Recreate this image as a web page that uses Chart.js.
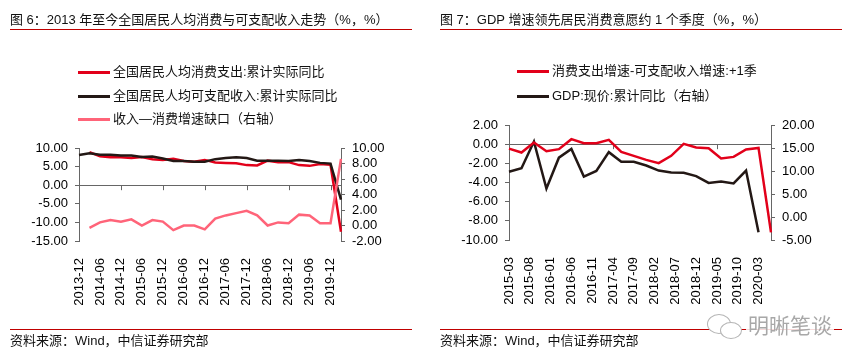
<!DOCTYPE html>
<html>
<head>
<meta charset="utf-8">
<script src="https://cdn.jsdelivr.net/npm/chart.js@4.4.1/dist/chart.umd.min.js"></script>
<style>
  body { margin: 0; background: #fff; }
  #wrap { position: relative; width: 857px; height: 364px; overflow: hidden;
          font-family: 'Liberation Sans', 'Noto Sans CJK SC', sans-serif; color: #111; }
  canvas { position: absolute; top: 0; }
  .title { position: absolute; top: 11px; font-size: 13px; line-height: 18px; white-space: nowrap; }
  .rule { position: absolute; height: 1px; background: #c00000; }
  .src { position: absolute; top: 332px; font-size: 13px; line-height: 18px; white-space: nowrap; }
  .sw { position: absolute; width: 32px; height: 3px; }
  .lt { position: absolute; font-size: 13px; line-height: 18px; white-space: nowrap; }
  .wm { position: absolute; left: 746px; top: 313px; font-size: 21px; line-height: 26px; color: #a8a8a8;
        background: rgba(255,255,255,0.85); padding: 0 2px; }
  .bub { position: absolute; border: 1.5px solid #b5b5b5; border-radius: 50%; background: #fff; }
</style>
</head>
<body>
<div id="wrap">
  <canvas id="c1" width="428" height="364" style="left:0"></canvas>
  <canvas id="c2" width="429" height="364" style="left:428px"></canvas>

  <div class="title" style="left:10px">图 6：2013 年至今全国居民人均消费与可支配收入走势（%，%）</div>
  <div class="rule" style="left:10px; top:29px; width:402px"></div>
  <div class="title" style="left:440px">图 7：GDP 增速领先居民消费意愿约 1 个季度（%，%）</div>
  <div class="rule" style="left:440px; top:29px; width:402px"></div>

  <div class="rule" style="left:10px; top:329px; width:402px"></div>
  <div class="src" style="left:10px">资料来源：Wind，中信证券研究部</div>
  <div class="rule" style="left:440px; top:329px; width:402px"></div>
  <div class="src" style="left:440px">资料来源：Wind，中信证券研究部</div>

  <div class="bub" style="left:707px; top:314px; width:22px; height:18px"></div>
  <div class="bub" style="left:720px; top:322px; width:20px; height:15px"></div>
  <div class="wm">明晰笔谈</div>
</div>

<script>
// 图6 quarterly data (2013-12 .. 2020-03)
const quarters1 = ['2013-12', '2014-03', '2014-06', '2014-09', '2014-12', '2015-03', '2015-06', '2015-09',
  '2015-12', '2016-03', '2016-06', '2016-09', '2016-12', '2017-03', '2017-06', '2017-09', '2017-12',
  '2018-03', '2018-06', '2018-09', '2018-12', '2019-03', '2019-06', '2019-09', '2019-12', '2020-03'];
const consumeReal = [null, 8.9, 7.8, 7.5, 7.5, 7.3, 7.6, 7.0, 6.8, 7.1, 6.5, 6.3, 6.8, 6.1, 6.0, 5.9,
  5.4, 5.3, 6.6, 6.2, 6.2, 5.4, 5.2, 5.7, 5.5, -12.5];
const incomeReal = [8.1, 8.6, 8.2, 8.2, 8.0, 8.0, 7.6, 7.7, 7.2, 6.5, 6.5, 6.3, 6.3, 7.0, 7.3, 7.5,
  7.3, 6.6, 6.6, 6.6, 6.5, 6.8, 6.5, 6.0, 5.8, -3.9];
const gapRight = [null, -0.3, 0.4, 0.7, 0.5, 0.8, 0.0, 0.7, 0.5, -0.6, 0.0, 0.0, -0.5, 0.9, 1.3, 1.6,
  1.9, 1.3, 0.0, 0.4, 0.3, 1.4, 1.3, 0.3, 0.3, 8.6];

// 图7 quarterly points on a monthly axis
const quarters2 = ['2015-03', '2015-06', '2015-09', '2015-12', '2016-03', '2016-06', '2016-09', '2016-12',
  '2017-03', '2017-06', '2017-09', '2017-12', '2018-03', '2018-06', '2018-09', '2018-12',
  '2019-03', '2019-06', '2019-09', '2019-12', '2020-03', '2020-06'];
const gapLead = [-0.46, -0.87, 0.17, -0.73, -0.52, 0.52, 0.1, 0.1, 0.45, -0.8, -1.22, -1.64, -1.98,
  -1.22, 0.03, -0.35, -0.42, -1.5, -1.33, -0.56, -0.39, -9.2];
const gdpNominal = [9.85, 10.6, 16.4, 6.2, 12.9, 14.8, 8.8, 10.0, 14.1, 12.0, 12.0, 11.2, 10.1,
  9.7, 9.6, 8.9, 7.4, 7.7, 7.3, 10.1, -3.3];

const legend1 = ['全国居民人均消费支出:累计实际同比', '全国居民人均可支配收入:累计实际同比', '收入—消费增速缺口（右轴）'];
const legend2 = ['消费支出增速-可支配收入增速:+1季', 'GDP:现价:累计同比（右轴）'];

const RED = '#e2001a';
const BLACK = '#231815';
const PINK = '#ff6479';
const AXIS = '#666';
const FONT = { family: "'Liberation Sans', 'Noto Sans CJK SC', sans-serif", size: 13 };

// monthly category labels for chart 2
function monthRange(from, to) {
  const out = [];
  let [y, m] = from.split('-').map(Number);
  const [ty, tm] = to.split('-').map(Number);
  while (y < ty || (y === ty && m <= tm)) {
    out.push(y + '-' + String(m).padStart(2, '0'));
    m++;
    if (m > 12) { m = 1; y++; }
  }
  return out;
}
const months2 = monthRange('2015-03', '2020-06');

// legends as html
function addLegend(names, colors, swLeft, tops) {
  const wrap = document.getElementById('wrap');
  names.forEach((name, i) => {
    const sw = document.createElement('div');
    sw.className = 'sw';
    sw.style.left = swLeft + 'px';
    sw.style.top = (tops[i] - 1.5) + 'px';
    sw.style.background = colors[i];
    wrap.appendChild(sw);
    const t = document.createElement('div');
    t.className = 'lt';
    t.style.left = (swLeft + 35) + 'px';
    t.style.top = (tops[i] - 9) + 'px';
    t.textContent = name;
    wrap.appendChild(t);
  });
}
addLegend(legend1, [RED, BLACK, PINK], 78, [72, 96, 119]);
addLegend(legend2, [RED, BLACK], 517, [71, 96]);

// little tick marks hanging under the zero line
const zeroTicks = {
  id: 'zeroTicks',
  beforeDatasetsDraw(chart, args, opts) {
    const x = chart.scales.x;
    const y0 = chart.scales.y.getPixelForValue(0);
    const ctx = chart.ctx;
    ctx.save();
    ctx.strokeStyle = AXIS;
    ctx.lineWidth = 1;
    ctx.beginPath();
    for (let i = opts.step; i < x.ticks.length; i += opts.step) {
      const px = Math.round(x.getPixelForTick(i)) + 0.5;
      ctx.moveTo(px, y0);
      ctx.lineTo(px, y0 + 5);
    }
    ctx.stroke();
    ctx.restore();
  }
};

function yAxis(pos, min, max, step, width, zero) {
  return {
    position: pos,
    min: min,
    max: max,
    afterFit: s => { s.width = width; },
    border: { display: true, color: AXIS, width: 1 },
    grid: {
      drawOnChartArea: zero,
      drawTicks: true,
      tickLength: 4,
      tickColor: AXIS,
      color: ctx => (zero && ctx.tick && ctx.tick.value === 0) ? AXIS : 'rgba(0,0,0,0)'
    },
    ticks: {
      stepSize: step,
      autoSkip: false,
      padding: 7,
      color: '#000',
      font: FONT,
      callback: v => v.toFixed(2)
    }
  };
}

function xAxis(every) {
  return {
    type: 'category',
    offset: false,
    afterFit: s => { s.height = 70; },
    border: { display: false },
    grid: { display: false },
    ticks: {
      autoSkip: false,
      minRotation: 90,
      maxRotation: 90,
      padding: 9,
      color: '#000',
      font: FONT,
      callback: function (v, i) { return i % every === 0 ? this.getLabelForValue(v) : null; }
    }
  };
}

const line = (label, data, color, axis, order) => ({
  label: label,
  data: data,
  borderColor: color,
  backgroundColor: color,
  borderWidth: 2.5,
  pointRadius: 0,
  tension: 0,
  yAxisID: axis,
  order: order
});

new Chart(document.getElementById('c1'), {
  type: 'line',
  data: {
    labels: quarters1,
    datasets: [
      line(legend1[0], consumeReal, RED, 'y', 3),
      line(legend1[1], incomeReal, BLACK, 'y', 2),
      line(legend1[2], gapRight, PINK, 'y1', 1)
    ]
  },
  options: {
    responsive: false,
    animation: false,
    layout: { padding: { left: 0, right: 27, top: 148, bottom: 53 } },
    plugins: { legend: { display: false }, tooltip: { enabled: false }, zeroTicks: { step: 2 } },
    scales: {
      x: xAxis(2),
      y: yAxis('left', -15, 10, 5, 79, true),
      y1: yAxis('right', -2, 10, 2, 60, false)
    }
  },
  plugins: [zeroTicks]
});

new Chart(document.getElementById('c2'), {
  type: 'line',
  data: {
    labels: months2,
    datasets: [
      line(legend2[0], quarters2.map((q, i) => ({ x: q, y: gapLead[i] })), RED, 'y', 1),
      line(legend2[1], quarters2.slice(0, gdpNominal.length).map((q, i) => ({ x: q, y: gdpNominal[i] })), BLACK, 'y1', 2)
    ]
  },
  options: {
    responsive: false,
    animation: false,
    layout: { padding: { left: 0, right: 26, top: 125, bottom: 54 } },
    plugins: { legend: { display: false }, tooltip: { enabled: false }, zeroTicks: { step: 5 } },
    scales: {
      x: xAxis(5),
      y: yAxis('left', -10, 2, 2, 81, true),
      y1: yAxis('right', -5, 20, 5, 60, false)
    }
  },
  plugins: [zeroTicks]
});
</script>
</body>
</html>
